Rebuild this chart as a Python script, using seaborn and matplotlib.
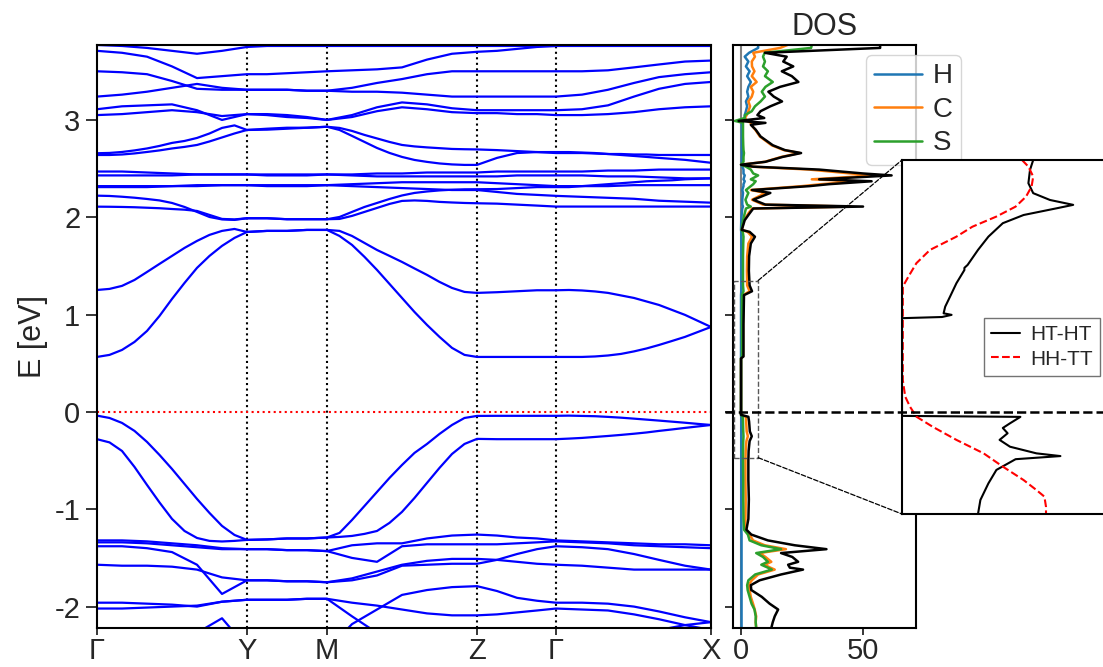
import numpy as np
import pandas as pd
import matplotlib
matplotlib.use('Agg')
import matplotlib.pyplot as plt
import seaborn as sns
from matplotlib.patches import Rectangle, ConnectionPatch
from matplotlib.lines import Line2D
import matplotlib.transforms as mtransforms

sns.set_style('ticks')
plt.rcParams['font.family'] = ['Liberation Sans', 'DejaVu Sans']
plt.rcParams['axes.unicode_minus'] = False

# ---------------- band structure data ----------------
hs_pos = [0.0, 1.5, 2.3, 3.8, 4.59, 6.14]
hs_labels = ['Γ', 'Y', 'M', 'Z', 'Γ', 'X']

# coarse k grid (27 points) and fine k grid (45 points) along the path
k_coarse = [0.0, 0.25, 0.5, 0.75, 1.0, 1.25, 1.5,
            1.7, 1.9, 2.1, 2.3,
            2.55, 2.8, 3.05, 3.3, 3.55, 3.8,
            4.0, 4.2, 4.4, 4.59,
            4.85, 5.11, 5.37, 5.62, 5.88, 6.14]
k_fine = [0.0, 0.125, 0.25, 0.375, 0.5, 0.625, 0.75, 0.875, 1.0, 1.125, 1.25, 1.375, 1.5,
          1.7, 1.9, 2.1, 2.3,
          2.425, 2.55, 2.675, 2.8, 2.925, 3.05, 3.175, 3.3, 3.425, 3.55, 3.675, 3.8,
          4.0, 4.2, 4.4, 4.59,
          4.72, 4.85, 4.98, 5.11, 5.24, 5.37, 5.495, 5.62, 5.75, 5.88, 6.01, 6.14]

# fine-grid bands
band_c1 = [0.565, 0.586, 0.637, 0.719, 0.832, 0.986, 1.161, 1.325, 1.480, 1.603, 1.706, 1.788, 1.849,
           1.86, 1.86, 1.87, 1.87,
           1.808, 1.716, 1.593, 1.459, 1.315, 1.171, 1.027, 0.894, 0.771, 0.658, 0.586, 0.565,
           0.565, 0.565, 0.565, 0.565,
           0.565, 0.565, 0.570, 0.580, 0.596, 0.622, 0.652, 0.688, 0.729, 0.771, 0.822, 0.873]
band_c2 = [1.253, 1.264, 1.295, 1.356, 1.438, 1.521, 1.603, 1.685, 1.757, 1.819, 1.860, 1.880, 1.849,
           1.86, 1.86, 1.87, 1.87,
           1.860, 1.808, 1.736, 1.664, 1.603, 1.541, 1.474, 1.408, 1.336, 1.274, 1.233, 1.223,
           1.23, 1.24, 1.25, 1.25,
           1.253, 1.248, 1.238, 1.223, 1.197, 1.171, 1.135, 1.099, 1.048, 0.997, 0.935, 0.873]
band_v1 = [-0.038, -0.062, -0.113, -0.195, -0.308, -0.442, -0.586, -0.740, -0.894, -1.038, -1.171, -1.264, -1.315,
           -1.31, -1.30, -1.30, -1.29,
           -1.243, -1.110, -0.966, -0.822, -0.678, -0.545, -0.421, -0.329, -0.226, -0.134, -0.062, -0.041,
           -0.04, -0.04, -0.04, -0.04,
           -0.038, -0.041, -0.044, -0.051, -0.059, -0.069, -0.079, -0.089, -0.100, -0.111, -0.123, -0.134]
band_v2 = [-0.280, -0.313, -0.401, -0.565, -0.750, -0.930, -1.099, -1.223, -1.295, -1.325, -1.331, -1.325, -1.315,
           -1.31, -1.30, -1.30, -1.29,
           -1.284, -1.274, -1.253, -1.223, -1.140, -1.027, -0.884, -0.729, -0.575, -0.432, -0.329, -0.277,
           -0.28, -0.28, -0.28, -0.28,
           -0.274, -0.267, -0.257, -0.247, -0.236, -0.224, -0.211, -0.195, -0.180, -0.164, -0.149, -0.134]
band_u7 = [2.658, 2.661, 2.671, 2.687, 2.707, 2.733, 2.764, 2.784, 2.815, 2.861, 2.918, 2.944, 2.897,
           2.91, 2.92, 2.92, 2.93,
           2.918, 2.887, 2.846, 2.810, 2.774, 2.743, 2.728, 2.718, 2.710, 2.702, 2.699, 2.697,
           2.69, 2.68, 2.67, 2.66,
           2.66, 2.66, 2.655, 2.65, 2.65, 2.645, 2.645, 2.64, 2.64, 2.64, 2.64, 2.64]
band_u8 = [2.640, 2.640, 2.645, 2.656, 2.671, 2.687, 2.707, 2.723, 2.743, 2.779, 2.820, 2.861, 2.897,
           2.90, 2.91, 2.92, 2.93,
           2.897, 2.836, 2.774, 2.712, 2.661, 2.620, 2.589, 2.569, 2.553, 2.543, 2.538, 2.538,
           2.61, 2.66, 2.67, 2.67,
           2.67, 2.665, 2.66, 2.65, 2.64, 2.63, 2.62, 2.61, 2.60, 2.59, 2.575, 2.56]
band_u13 = [2.222, 2.219, 2.211, 2.201, 2.188, 2.173, 2.147, 2.106, 2.055, 2.003, 1.978, 1.973, 1.990,
            1.99, 1.98, 1.98, 1.98,
            2.003, 2.055, 2.106, 2.147, 2.188, 2.224, 2.250, 2.265, 2.276, 2.283, 2.287, 2.288,
            2.29, 2.30, 2.31, 2.31,
            2.31, 2.32, 2.33, 2.34, 2.35, 2.36, 2.37, 2.375, 2.38, 2.39, 2.395, 2.40]
band_u14 = [2.109, 2.108, 2.106, 2.103, 2.098, 2.093, 2.085, 2.078, 2.065, 2.024, 1.983, 1.978, 1.990,
            1.99, 1.98, 1.98, 1.98,
            1.983, 2.014, 2.055, 2.096, 2.137, 2.168, 2.173, 2.168, 2.158, 2.152, 2.147, 2.144,
            2.14, 2.13, 2.12, 2.11,
            2.11, 2.11, 2.11, 2.11, 2.11, 2.11, 2.11, 2.11, 2.11, 2.11, 2.11, 2.11]

# coarse-grid bands
band_v3 = [-1.32, -1.32, -1.33, -1.35, -1.37, -1.40, -1.41, -1.41, -1.42, -1.42, -1.43, -1.37, -1.35, -1.35, -1.30, -1.27, -1.26, -1.27, -1.29, -1.30, -1.32, -1.33, -1.34, -1.35, -1.36, -1.36, -1.37]
band_v4 = [-1.34, -1.34, -1.35, -1.37, -1.39, -1.41, -1.41, -1.41, -1.42, -1.42, -1.43, -1.50, -1.54, -1.38, -1.36, -1.36, -1.36, -1.36, -1.35, -1.34, -1.33, -1.34, -1.35, -1.37, -1.38, -1.39, -1.40]
band_v5 = [-1.38, -1.38, -1.40, -1.44, -1.57, -1.87, -1.73, -1.73, -1.74, -1.74, -1.75, -1.71, -1.64, -1.57, -1.53, -1.51, -1.51, -1.52, -1.54, -1.56, -1.57, -1.58, -1.60, -1.62, -1.62, -1.62, -1.62]
band_v6 = [-1.57, -1.58, -1.58, -1.59, -1.62, -1.70, -1.73, -1.73, -1.74, -1.74, -1.75, -1.73, -1.68, -1.58, -1.57, -1.56, -1.56, -1.52, -1.46, -1.41, -1.38, -1.39, -1.41, -1.46, -1.52, -1.58, -1.62]
band_v7 = [-1.96, -1.96, -1.97, -1.98, -2.00, -1.95, -1.93, -1.93, -1.93, -1.92, -1.92, -1.96, -1.99, -2.03, -2.07, -2.09, -2.09, -2.08, -2.06, -2.04, -2.02, -2.03, -2.04, -2.08, -2.13, -2.19, -2.24]
band_v8 = [-2.02, -2.02, -2.01, -2.00, -1.99, -1.95, -1.93, -1.93, -1.93, -1.92, -1.92, -2.10, -2.27, -2.45, -2.60, -2.70, -2.70, -2.70, -2.70, -2.70, -2.70, -2.65, -2.55, -2.40, -2.24, -2.19, -2.16]
band_v9 = [-2.60, -2.55, -2.50, -2.40, -2.27, -2.12, -2.42, -2.50, -2.55, -2.50, -2.45, -2.18, -2.03, -1.88, -1.83, -1.80, -1.79, -1.84, -1.91, -1.94, -1.96, -1.96, -1.97, -2.00, -2.05, -2.11, -2.16]
band_u1 = [3.77, 3.76, 3.74, 3.71, 3.68, 3.71, 3.75, 3.76, 3.76, 3.76, 3.76, 3.76, 3.76, 3.76, 3.76, 3.76, 3.76, 3.76, 3.76, 3.76, 3.76, 3.76, 3.76, 3.76, 3.76, 3.76, 3.76]
band_u2 = [3.71, 3.69, 3.65, 3.55, 3.43, 3.45, 3.47, 3.47, 3.48, 3.49, 3.50, 3.51, 3.52, 3.54, 3.62, 3.68, 3.70, 3.71, 3.73, 3.75, 3.76, 3.77, 3.78, 3.79, 3.80, 3.80, 3.80]
band_u3 = [3.50, 3.49, 3.47, 3.40, 3.32, 3.31, 3.31, 3.31, 3.31, 3.30, 3.30, 3.33, 3.38, 3.42, 3.47, 3.50, 3.50, 3.50, 3.50, 3.50, 3.50, 3.50, 3.51, 3.54, 3.57, 3.60, 3.61]
band_u4 = [3.24, 3.26, 3.29, 3.33, 3.37, 3.33, 3.31, 3.31, 3.31, 3.30, 3.30, 3.29, 3.29, 3.28, 3.26, 3.24, 3.24, 3.24, 3.24, 3.24, 3.24, 3.26, 3.31, 3.38, 3.44, 3.47, 3.49]
band_u5 = [3.11, 3.14, 3.15, 3.16, 3.10, 3.00, 3.06, 3.05, 3.03, 3.02, 3.00, 3.05, 3.13, 3.18, 3.16, 3.12, 3.10, 3.10, 3.10, 3.10, 3.10, 3.11, 3.15, 3.24, 3.32, 3.37, 3.39]
band_u6 = [3.05, 3.06, 3.08, 3.10, 3.08, 3.04, 3.06, 3.06, 3.05, 3.03, 3.00, 3.03, 3.09, 3.13, 3.11, 3.08, 3.07, 3.07, 3.06, 3.06, 3.05, 3.05, 3.06, 3.08, 3.11, 3.13, 3.14]
band_u9 = [2.47, 2.47, 2.46, 2.45, 2.44, 2.44, 2.44, 2.43, 2.43, 2.43, 2.44, 2.44, 2.45, 2.45, 2.46, 2.46, 2.46, 2.47, 2.47, 2.47, 2.47, 2.47, 2.48, 2.48, 2.49, 2.49, 2.49]
band_u10 = [2.43, 2.43, 2.43, 2.43, 2.44, 2.44, 2.44, 2.44, 2.44, 2.44, 2.44, 2.43, 2.42, 2.42, 2.42, 2.42, 2.42, 2.42, 2.43, 2.43, 2.43, 2.43, 2.42, 2.42, 2.41, 2.40, 2.40]
band_u11 = [2.32, 2.32, 2.32, 2.32, 2.33, 2.33, 2.33, 2.32, 2.32, 2.32, 2.33, 2.34, 2.35, 2.36, 2.36, 2.36, 2.36, 2.35, 2.34, 2.33, 2.32, 2.32, 2.32, 2.33, 2.33, 2.33, 2.33]
band_u12 = [2.31, 2.31, 2.31, 2.32, 2.32, 2.33, 2.33, 2.33, 2.33, 2.33, 2.33, 2.32, 2.31, 2.30, 2.29, 2.28, 2.28, 2.26, 2.24, 2.23, 2.22, 2.21, 2.20, 2.19, 2.17, 2.16, 2.15]

fine_bands = [band_c1, band_c2, band_v1, band_v2, band_u7, band_u8, band_u13, band_u14]
coarse_bands = [band_v3, band_v4, band_v5, band_v6, band_v7, band_v8, band_v9,
                band_u1, band_u2, band_u3, band_u4, band_u5, band_u6,
                band_u9, band_u10, band_u11, band_u12]

# ---------------- DOS data ----------------
dos_E = [-2.22, -2.16, -2.10, -2.03, -1.97, -1.90, -1.83, -1.78, -1.73, -1.67,
         -1.62, -1.60, -1.57, -1.54, -1.49, -1.45, -1.41, -1.37, -1.32, -1.26,
         -1.21, -1.10, -0.90, -0.70, -0.50, -0.40, -0.30, -0.25, -0.20, -0.10,
         -0.05, -0.03, 0.55, 0.57, 0.90, 1.20, 1.24, 1.30, 1.45, 1.60,
         1.73, 1.80, 1.85, 1.87, 1.97, 2.04, 2.09, 2.11, 2.13, 2.18,
         2.25, 2.28, 2.32, 2.34, 2.37, 2.39, 2.43, 2.45, 2.49, 2.52,
         2.54, 2.57, 2.62, 2.66, 2.69, 2.74, 2.83, 2.90, 2.95, 2.97,
         2.99, 3.02, 3.05, 3.09, 3.14, 3.19, 3.24, 3.29, 3.34, 3.39,
         3.45, 3.50, 3.55, 3.60, 3.65, 3.69, 3.74, 3.77]
dos_total = [12.4, 13.0, 13.8, 15.2, 11.7, 8.5, 4.2, 4.0, 7.6, 16.4,
             25.4, 20.0, 19.3, 23.4, 21.0, 16.4, 35.0, 22.0, 11.0, 4.2,
             2.2, 3.0, 3.2, 3.0, 3.0, 3.1, 3.5, 4.4, 3.6, 3.3,
             3.0, 0.0, 0.0, 1.0, 1.0, 1.2, 4.5, 3.5, 3.2, 3.3,
             4.0, 5.7, 3.5, 0.3, 1.5, 3.5, 5.0, 50.0, 10.0, 5.0,
             12.0, 4.5, 28.0, 36.0, 53.5, 32.0, 61.7, 50.0, 32.0, 5.0,
             0.0, 10.0, 17.0, 24.6, 18.0, 13.0, 8.0, 6.0, 4.0, 10.0,
             -1.0, 9.5, 6.7, 8.0, 12.0, 16.8, 13.4, 11.2, 16.0, 23.5,
             20.8, 16.7, 21.4, 17.3, 18.7, 9.8, 57.0, 57.0]
dos_C = [6.2, 6.0, 6.2, 5.6, 4.9, 4.0, 3.5, 3.0, 4.4, 7.0,
         13.8, 12.0, 9.7, 12.4, 10.0, 7.6, 18.4, 9.7, 4.9, 3.5,
         1.6, 1.8, 1.9, 1.8, 1.8, 1.9, 2.2, 2.8, 2.3, 2.1,
         2.0, 0.0, 0.0, 0.8, 0.8, 0.9, 3.5, 2.5, 2.4, 2.5,
         3.0, 4.5, 2.7, 0.3, 1.2, 3.0, 4.5, 45.0, 9.0, 4.5,
         10.0, 4.0, 25.0, 33.0, 48.0, 29.0, 55.0, 45.0, 28.0, 4.5,
         0.0, 9.8, 16.5, 24.0, 17.5, 12.5, 7.7, 5.8, 4.2, 4.0,
         2.5, 1.6, 2.3, 3.0, 3.7, 3.0, 4.4, 5.0, 4.0, 6.4,
         4.4, 5.5, 4.5, 4.4, 5.7, 5.0, 16.0, 19.0]
dos_S = [6.2, 6.0, 6.0, 5.5, 4.3, 3.5, 2.7, 2.5, 3.0, 5.8,
         12.6, 11.0, 8.3, 11.0, 9.0, 6.2, 16.4, 8.3, 3.5, 2.8,
         1.2, 1.0, 0.9, 0.9, 0.8, 0.8, 0.9, 1.0, 0.9, 0.8,
         0.7, 0.0, 0.0, 0.4, 0.4, 0.4, 1.0, 0.8, 0.8, 0.8,
         0.9, 1.0, 0.7, 0.2, 0.8, 1.5, 2.0, 4.0, 2.5, 1.8,
         3.0, 2.0, 4.0, 5.0, 6.0, 4.0, 7.0, 5.0, 4.0, 2.0,
         0.0, 1.0, 1.0, 1.2, 1.0, 0.9, 0.8, 0.8, 0.8, 0.8,
         -2.5, 1.5, 1.6, 4.4, 5.7, 8.0, 9.8, 8.5, 10.0, 13.0,
         9.8, 11.0, 9.0, 9.8, 9.0, 9.7, 28.7, 29.0]
dos_H = [0.2, 0.2, 0.2, 0.2, 0.2, 0.2, 0.2, 0.2, 0.2, 0.2,
         0.2, 0.2, 0.2, 0.2, 0.2, 0.2, 0.2, 0.2, 0.2, 0.2,
         0.1, 0.1, 0.1, 0.1, 0.1, 0.1, 0.1, 0.1, 0.1, 0.1,
         0.1, 0.0, 0.0, 0.0, 0.0, 0.0, 0.1, 0.1, 0.1, 0.1,
         0.1, 0.1, 0.1, 0.0, 0.1, 0.3, 0.5, 0.8, 0.5, 0.5,
         0.8, 0.5, 1.0, 1.0, 1.5, 1.0, 1.5, 1.0, 1.0, 0.5,
         0.0, 0.3, 0.3, 0.3, 0.3, 0.3, 0.3, 0.3, 0.3, 0.3,
         0.3, 1.5, 1.5, 2.0, 2.5, 2.0, 3.0, 2.5, 3.0, 4.0,
         2.5, 3.5, 2.0, 3.0, 1.5, 3.3, 7.0, 7.0]
dos_ticks = [0, 50]
E_ticks = [-2, -1, 0, 1, 2, 3]

# ---------------- inset data ----------------
htht_E = [1.297, 1.246, 1.178, 1.127, 1.092, 1.067, 1.050, 1.015, 0.973, 0.904,
          0.836, 0.759, 0.744, 0.733, 0.665, 0.596, 0.545, 0.511, 0.503, 0.492,
          0.486, -0.015, -0.020, -0.053, -0.077, -0.104, -0.138, -0.173, -0.207, -0.221,
          -0.237, -0.292, -0.361, -0.446, -0.518]
htht_D = [8.2, 8.0, 7.9, 8.2, 9.25, 10.7, 9.7, 7.6, 6.3, 5.4,
          4.75, 4.1, 3.9, 3.9, 3.4, 3.0, 2.7, 2.6, 3.1, 2.5,
          0.0, 0.0, 7.4, 6.75, 6.3, 6.6, 6.1, 6.75, 8.4, 9.9,
          7.1, 5.9, 5.4, 4.9, 4.75]
hhtt_E = [1.297, 1.263, 1.212, 1.161, 1.109, 1.058, 1.007, 0.955, 0.904, 0.836,
          0.768, 0.699, 0.648, 0.169, 0.084, 0.032, -0.019, -0.070, -0.138, -0.207,
          -0.275, -0.344, -0.395, -0.429, -0.481, -0.518]
hhtt_D = [7.5, 7.9, 8.2, 8.1, 7.75, 7.1, 5.9, 4.4, 3.4, 1.75,
          0.9, 0.4, 0.05, 0.05, 0.2, 0.5, 0.9, 1.9, 3.4, 5.1,
          6.3, 7.6, 8.4, 8.9, 9.0, 9.0]

# ---------------- figure ----------------
W, H = 1103, 667
fig = plt.figure(figsize=(W / 100, H / 100), dpi=100)
ax_b = fig.add_axes([97 / W, 1 - 628 / H, 614 / W, 583 / H])
ax_d = fig.add_axes([733 / W, 1 - 628 / H, 183 / W, 583 / H])
ax_in = fig.add_axes([902 / W, 1 - 514 / H, 224 / W, 354 / H])

# bands
rows = []
bi = 0
for kk, group in ((k_fine, fine_bands), (k_coarse, coarse_bands)):
    for b in group:
        for k, e in zip(kk, b):
            rows.append((bi, k, e))
        bi += 1
df_b = pd.DataFrame(rows, columns=['band', 'k', 'E'])
for p in hs_pos[1:-1]:
    ax_b.axvline(p, color='k', ls=':', lw=1.5, zorder=1)
ax_b.axhline(0, color='red', ls=':', lw=1.5, zorder=1)
sns.lineplot(data=df_b, x='k', y='E', units='band', estimator=None, sort=False,
             color='#0000ff', lw=1.6, ax=ax_b, zorder=2)
ax_b.set_xlim(hs_pos[0], hs_pos[-1])
ax_b.set_ylim(-2.22, 3.77)
ax_b.set_xticks(hs_pos)
ax_b.set_xticklabels(hs_labels)
ax_b.set_yticks(E_ticks)
ax_b.set_yticklabels([str(t) for t in E_ticks])
ax_b.set_xlabel('')
ax_b.set_ylabel('E [eV]', fontsize=22, labelpad=5)
ax_b.tick_params(axis='y', labelsize=21, length=8, width=1.3, pad=4)
ax_b.tick_params(axis='x', labelsize=21, length=5, width=1.3, pad=1.5)

# DOS
ax_d.axvline(0, color='grey', lw=1.5, zorder=1)
sns.lineplot(x=dos_H, y=dos_E, orient='y', sort=False, estimator=None,
             color='tab:blue', lw=1.8, ax=ax_d, label='H')
sns.lineplot(x=dos_C, y=dos_E, orient='y', sort=False, estimator=None,
             color='tab:orange', lw=1.8, ax=ax_d, label='C')
sns.lineplot(x=dos_S, y=dos_E, orient='y', sort=False, estimator=None,
             color='tab:green', lw=1.8, ax=ax_d, label='S')
sns.lineplot(x=dos_total, y=dos_E, orient='y', sort=False, estimator=None,
             color='black', lw=1.8, ax=ax_d)
ax_d.set_xlim(-3.3, 71.7)
ax_d.set_ylim(-2.22, 3.77)
ax_d.set_xticks(dos_ticks)
ax_d.set_yticks(E_ticks)
ax_d.set_yticklabels([])
ax_d.set_xlabel('')
ax_d.set_ylabel('')
ax_d.tick_params(axis='x', labelsize=21, length=5, width=1.3, pad=1.5)
ax_d.tick_params(axis='y', length=6, width=1.3)
ax_d.set_title('DOS', fontsize=22, pad=7)
h, l = ax_d.get_legend_handles_labels()
ax_d.legend(h, l, loc='upper left', bbox_to_anchor=(866 / W, 1 - 55 / H),
            bbox_transform=fig.transFigure, borderaxespad=0, fontsize=20,
            handlelength=1.7, handletextpad=0.4, labelspacing=0.27,
            borderpad=0.3, framealpha=0.8)
ax_d.add_patch(Rectangle((-3.0, -0.47), 10.0, 1.82, fill=False, ls='--',
                         lw=1.0, edgecolor='0.35', zorder=5))

# inset
sns.lineplot(x=htht_D, y=htht_E, orient='y', sort=False, estimator=None,
             color='black', lw=1.5, ax=ax_in, label='HT-HT')
sns.lineplot(x=hhtt_D, y=hhtt_E, orient='y', sort=False, estimator=None,
             color='red', lw=1.5, ls='--', ax=ax_in, label='HH-TT')
ax_in.set_xlim(0, 14)
ax_in.set_ylim(-0.518, 1.297)
ax_in.set_xticks([])
ax_in.set_yticks([])
ax_in.set_xlabel('')
ax_in.set_ylabel('')
ax_in.legend(loc='center left', bbox_to_anchor=(0.366, 0.472), borderaxespad=0,
             fontsize=15, fancybox=False, edgecolor='0.45', framealpha=1,
             handlelength=1.4, handletextpad=0.45, borderpad=0.35,
             labelspacing=0.25)

for ax in (ax_b, ax_d, ax_in):
    for s in ax.spines.values():
        s.set_linewidth(1.5)
        s.set_color('black')
        s.set_visible(True)

# connectors and zero line across DOS and inset
for yA, yB in ((1.35, 1.0), (-0.47, 0.0)):
    cp = ConnectionPatch(xyA=(7.0, yA), coordsA=ax_d.transData,
                         xyB=(0.0, yB), coordsB=ax_in.transAxes,
                         ls='--', lw=0.9, color='black')
    fig.add_artist(cp)
tr = mtransforms.blended_transform_factory(fig.transFigure, ax_d.transData)
fig.add_artist(Line2D([725 / W, 1.0], [0, 0], transform=tr, color='black',
                      ls='--', lw=1.8, zorder=5))

fig.savefig('out.png', dpi=100)
